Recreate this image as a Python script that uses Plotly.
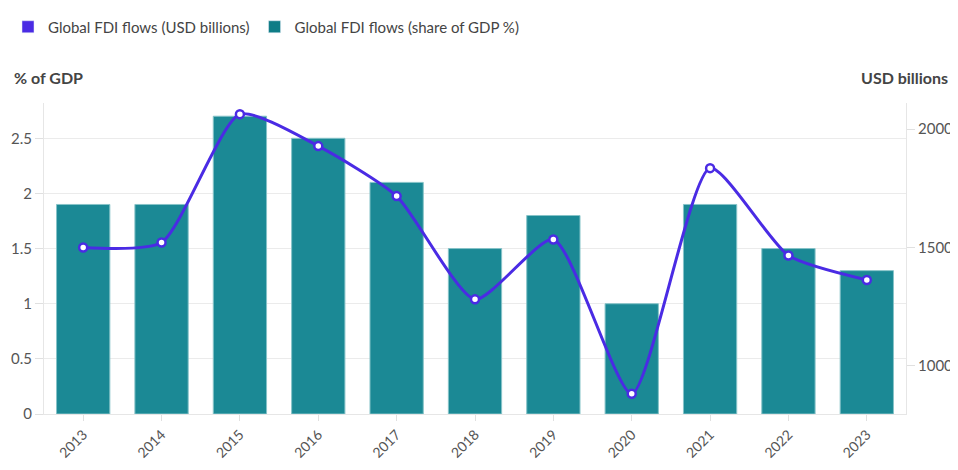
import plotly.graph_objects as go

years = ["2013", "2014", "2015", "2016", "2017", "2018", "2019", "2020", "2021", "2022", "2023"]
share_gdp = [1.9, 1.9, 2.7, 2.5, 2.1, 1.5, 1.8, 1.0, 1.9, 1.5, 1.3]
usd_billions = [1500, 1521, 2063, 1928, 1717, 1281, 1534, 882, 1835, 1466, 1363]

line_name = "Global FDI flows (USD billions)"
bar_name = "Global FDI flows (share of GDP %)"
purple = "#4a2be4"
teal = "#0e7c86"
bar_fill = "#1b8995"
bar_edge = "#86c3c8"

# page offset from default body margin
OFF = 8
W, H = 958 - OFF, 470 - OFF
ML, MT = 44 - OFF, 103 - OFF
MR, MB = 52, 56
plot_w = W - ML - MR
plot_h = H - MT - MB

fig = go.Figure()
# legend-only entries (square swatches)
fig.add_trace(go.Bar(x=[None], y=[None], name=line_name, marker_color=purple, showlegend=True))
fig.add_trace(go.Bar(x=[None], y=[None], name=bar_name, marker_color=teal, showlegend=True))

fig.add_trace(go.Bar(
    x=years, y=share_gdp, name=bar_name,
    marker=dict(color=bar_fill, line=dict(width=1, color=bar_edge)),
    showlegend=False, yaxis="y"))
fig.add_trace(go.Scatter(
    x=years, y=usd_billions, name=line_name, mode="lines+markers", yaxis="y2",
    line=dict(color=purple, width=3, shape="spline", smoothing=0.6),
    marker=dict(size=8, color="white", line=dict(color=purple, width=2.5)),
    showlegend=False))

axis_common = dict(showline=True, linecolor="#e6e6e6", ticks="outside", tickcolor="#e0e0e0",
                   automargin=False, zeroline=False)

fig.update_layout(
    width=W, height=H,
    margin=dict(l=ML, r=MR, t=MT, b=MB, autoexpand=False),
    paper_bgcolor="white", plot_bgcolor="white",
    font=dict(family="Lato, Noto Sans, sans-serif", size=14, color="#555"),
    barmode="overlay",
    bargap=0.32,
    showlegend=True,
    legend=dict(orientation="h", x=0, y=1 - (27 - OFF) / H,
                xanchor="left", yanchor="middle",
                xref="container", yref="container", font=dict(size=15, color="#444"),
                itemwidth=30, traceorder="normal", bgcolor="rgba(0,0,0,0)"),
    xaxis=dict(type="category", range=[-0.5, 10.5], tickangle=-45, showgrid=False, ticklen=6,
               tickfont=dict(size=14, color="#555"), **axis_common),
    yaxis=dict(range=[0, 2.82], dtick=0.5, showgrid=True, gridcolor="#ebebeb",
               ticklen=8, tickfont=dict(size=15, color="#555"), **axis_common),
    yaxis2=dict(range=[797, 2110], tickvals=[1000, 1500, 2000], overlaying="y", side="right",
                showgrid=False, ticklen=8, tickfont=dict(size=15, color="#555"), **axis_common),
)

fig.add_annotation(text="<b>% of GDP</b>", x=(12 - OFF - ML) / plot_w, y=(H - MB - (78 - OFF)) / plot_h,
                   xref="paper", yref="paper", xanchor="left", yanchor="middle",
                   showarrow=False, font=dict(size=16, color="#444"))
fig.add_annotation(text="<b>USD billions</b>", x=(950 - OFF - ML) / plot_w, y=(H - MB - (78 - OFF)) / plot_h,
                   xref="paper", yref="paper", xanchor="right", yanchor="middle",
                   showarrow=False, font=dict(size=16, color="#444"))

fig.write_html("out.html")
